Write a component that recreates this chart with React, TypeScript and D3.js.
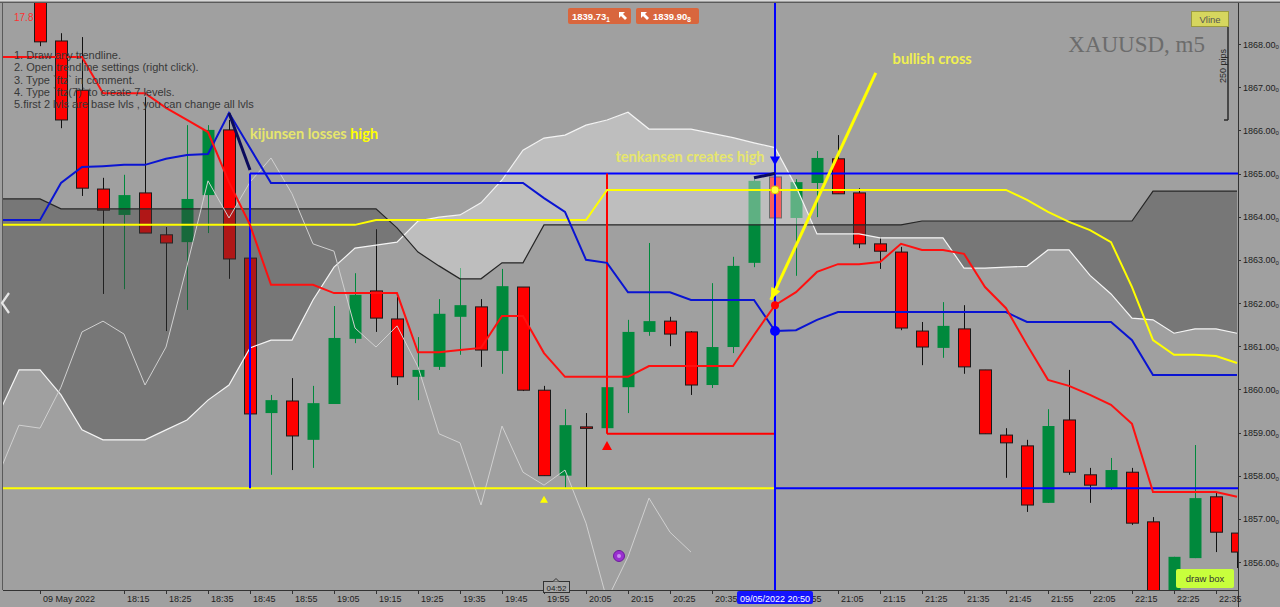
import React from "react";
import * as d3 from "d3";

// ---- chart data -------------------------------------------------------
const SYMBOL = "XAUUSD, m5";
const DATE_LABEL = "09 May 2022";
const CANDLE_START = "17:55"; // first candle
const LINE_START = "17:45"; // indicator buffers begin two bars earlier
const BAR_MINUTES = 5;

const opens = [
  1869.25, 1868.07, 1866.93, 1864.64, 1864.04, 1864.55, 1863.58, 1863.41, 1864.5, 1866.01,
  1863.04, 1859.45, 1859.73, 1858.83, 1859.66, 1861.17, 1862.28, 1861.63, 1860.29, 1860.52,
  1861.68, 1861.91, 1860.89, 1862.37, 1859.98, 1858.0, 1859.13, 1859.1, 1860.05, 1861.33,
  1861.58, 1861.33, 1860.1, 1860.98, 1862.93, 1864.92, 1863.97, 1864.78, 1865.34, 1864.55,
  1863.37, 1863.18, 1861.35, 1860.96, 1861.4, 1860.45, 1858.94, 1858.69, 1857.37, 1859.29,
  1858.02, 1857.71, 1858.08, 1856.93, 1855.0, 1856.09, 1857.51, 1856.67,
];
const highs = [
  1869.37, 1868.25, 1868.16, 1864.9, 1864.97, 1866.77, 1863.76, 1866.12, 1866.12, 1866.24,
  1863.04, 1859.87, 1860.26, 1860.08, 1861.93, 1862.69, 1863.71, 1862.14, 1861.21, 1862.09,
  1862.81, 1862.09, 1862.79, 1862.37, 1860.08, 1859.54, 1859.45, 1860.1, 1861.61, 1863.39,
  1861.68, 1861.35, 1862.46, 1863.07, 1864.87, 1864.92, 1864.87, 1865.52, 1865.89, 1864.66,
  1863.53, 1863.3, 1861.56, 1862.02, 1861.95, 1860.45, 1859.1, 1858.83, 1859.54, 1860.45,
  1858.18, 1858.41, 1858.18, 1857.04, 1856.12, 1858.71, 1857.6, 1856.67,
];
const lows = [
  1867.95, 1866.05, 1864.48, 1862.21, 1862.32, 1863.62, 1861.35, 1861.84, 1863.62, 1862.56,
  1859.43, 1858.02, 1858.13, 1858.18, 1859.66, 1861.07, 1861.33, 1860.1, 1859.75, 1860.45,
  1860.8, 1860.52, 1860.36, 1859.96, 1858.0, 1857.71, 1857.74, 1859.1, 1859.45, 1861.24,
  1861.0, 1859.87, 1860.03, 1860.84, 1862.83, 1863.97, 1862.63, 1863.99, 1864.53, 1863.27,
  1862.79, 1861.37, 1860.56, 1860.73, 1860.36, 1858.97, 1857.95, 1857.16, 1857.37, 1858.02,
  1857.37, 1857.67, 1856.86, 1854.89, 1854.89, 1856.09, 1856.23, 1855.86,
];
const closes = [
  1868.05, 1866.24, 1864.66, 1864.15, 1864.5, 1863.62, 1863.39, 1864.41, 1866.01, 1863.02,
  1859.43, 1859.75, 1858.92, 1859.68, 1861.19, 1862.19, 1861.65, 1860.29, 1860.45, 1861.75,
  1861.95, 1860.91, 1862.39, 1859.98, 1858.0, 1859.17, 1859.1, 1860.05, 1861.33, 1861.58,
  1861.28, 1860.1, 1860.98, 1862.86, 1864.83, 1863.97, 1864.8, 1865.36, 1864.53, 1863.37,
  1863.2, 1861.42, 1860.98, 1861.47, 1860.52, 1858.97, 1858.76, 1857.32, 1859.15, 1858.08,
  1857.78, 1858.13, 1856.9, 1855.12, 1856.12, 1857.48, 1856.69, 1856.23,
];

// Ichimoku buffers (from LINE_START)
const tenkan = [
  1867.7, 1867.7, 1867.7, 1867.7, 1867.7, 1866.86, 1866.86, 1866.86, 1866.52, 1866.24,
  1865.96, 1864.8, 1863.81, 1862.42, 1862.42, 1862.42, 1862.23, 1862.23, 1862.23, 1862.23,
  1860.86, 1860.86, 1860.91, 1860.96, 1861.7, 1861.7, 1860.84, 1860.29, 1860.29, 1860.29,
  1860.29, 1860.54, 1860.54, 1860.54, 1860.54, 1860.54, 1861.26, 1861.95, 1862.25, 1862.72,
  1862.9, 1862.9, 1862.95, 1863.37, 1863.23, 1863.23, 1863.14, 1862.37, 1861.88, 1861.03,
  1860.22, 1860.08, 1859.87, 1859.64, 1859.2, 1857.62, 1857.62, 1857.62, 1857.62, 1857.51,
];
const kijun = [
  1863.92, 1863.92, 1863.92, 1864.78, 1865.15, 1865.17, 1865.2, 1865.2, 1865.34, 1865.43,
  1865.45, 1866.4, 1865.59, 1864.78, 1864.78, 1864.78, 1864.78, 1864.78, 1864.78, 1864.78,
  1864.78, 1864.78, 1864.78, 1864.78, 1864.78, 1864.78, 1864.43, 1864.11, 1863.0, 1862.93,
  1862.25, 1862.25, 1862.25, 1862.07, 1862.07, 1862.07, 1862.07, 1861.35, 1861.37, 1861.61,
  1861.79, 1861.79, 1861.79, 1861.79, 1861.79, 1861.79, 1861.79, 1861.79, 1861.79, 1861.56,
  1861.56, 1861.56, 1861.56, 1861.56, 1861.14, 1860.33, 1860.33, 1860.33, 1860.33, 1860.33,
];
const senkouA = [
  1859.4, 1860.45, 1860.45, 1859.87, 1859.06, 1858.83, 1858.83, 1858.83, 1859.06, 1859.29,
  1859.75, 1860.1, 1860.96, 1861.14, 1861.14, 1862.07, 1862.83, 1863.27, 1863.34, 1863.41,
  1863.9, 1863.99, 1864.04, 1864.32, 1864.85, 1865.54, 1865.82, 1865.89, 1866.12, 1866.24,
  1866.42, 1866.03, 1866.03, 1866.03, 1865.93, 1865.83, 1865.71, 1865.6, 1864.7, 1863.6,
  1863.6, 1863.6, 1863.51, 1863.51, 1863.51, 1863.51, 1862.81, 1862.81, 1862.83, 1862.85,
  1863.23, 1863.23, 1862.64, 1862.21, 1861.65, 1861.61, 1861.3, 1861.4, 1861.4, 1861.3,
];
const senkouB = [
  1864.41, 1864.41, 1864.41, 1864.18, 1864.18, 1864.18, 1864.18, 1864.18, 1864.18, 1864.18,
  1864.18, 1864.18, 1864.18, 1864.18, 1864.18, 1864.18, 1864.18, 1864.18, 1864.18, 1863.74,
  1863.18, 1862.86, 1862.56, 1862.56, 1862.93, 1862.93, 1863.81, 1863.81, 1863.81, 1863.81,
  1863.81, 1863.81, 1863.81, 1863.81, 1863.81, 1863.81, 1863.81, 1863.81, 1863.81, 1863.81,
  1863.81, 1863.81, 1863.81, 1863.81, 1863.9, 1863.9, 1863.9, 1863.9, 1863.9, 1863.9,
  1863.9, 1863.9, 1863.9, 1863.9, 1863.9, 1864.59, 1864.59, 1864.59, 1864.59, 1864.59,
];
// yellow signal line
const signalLine = [
  1863.81, 1863.81, 1863.81, 1863.81, 1863.81, 1863.81, 1863.81, 1863.81, 1863.81, 1863.81,
  1863.81, 1863.81, 1863.81, 1863.81, 1863.81, 1863.81, 1863.81, 1863.81, 1863.92, 1863.92,
  1863.92, 1863.92, 1863.92, 1863.92, 1863.92, 1863.92, 1863.92, 1863.92, 1863.92, 1864.62,
  1864.62, 1864.62, 1864.62, 1864.62, 1864.62, 1864.62, 1864.62, 1864.62, 1864.62, 1864.62,
  1864.62, 1864.62, 1864.62, 1864.62, 1864.62, 1864.62, 1864.62, 1864.62, 1864.62, 1864.39,
  1864.11, 1863.88, 1863.69, 1863.41, 1862.37, 1861.14, 1860.8, 1860.8, 1860.77, 1860.61,
];

const priceTicks = [1856, 1857, 1858, 1859, 1860, 1861, 1862, 1863, 1864, 1865, 1866, 1867, 1868];
const timeTicks = [
  "18:15", "18:25", "18:35", "18:45", "18:55", "19:05", "19:15", "19:25", "19:35", "19:45",
  "19:55", "20:05", "20:15", "20:25", "20:35", "20:55", "21:05", "21:15", "21:25",
  "21:35", "21:45", "21:55", "22:05", "22:15", "22:25", "22:35",
];

const instructions = [
  "1. Draw any trendline.",
  "2. Open trendline settings (right click).",
  "3. Type `ftz` in comment.",
  "4. Type `ftz(7)` to create 7 levels.",
  "5.first 2 lvls are base lvls , you can change all lvls",
];

// drawn objects
const boxTop = 1865.0;
const swingLow = 1857.71;
const redLevel = 1858.97;
const boxStart = "18:45";
const redStart = "20:10";
const vlineTime = "20:50";

// ---- layout -----------------------------------------------------------
const W = 1280;
const H = 607;
const PL = 3, PT = 3, PR = 1238, PB = 590;

const BG = "#a0a0a0";
const GREEN = "#00893c";
const RED = "#ff0000";
const BLUE = "#0000ff";
const YELLOW = "#ffff00";

const at = (hm: string) => {
  const [h, m] = hm.split(":").map(Number);
  return new Date(2022, 4, 9, h, m);
};
const step = (start: string, i: number) => new Date(at(start).getTime() + i * BAR_MINUTES * 60000);

const x = d3.scaleTime().domain([at("17:55"), at("22:40")]).range([40, 1237]);
const y = d3.scaleLinear().domain([1856, 1868]).range([562, 44]);

const lineIdx = d3.range(senkouA.length);
const lx = (j: number) => x(step(LINE_START, j));

const seriesPath = (vals: number[]) =>
  d3.line<number>().x(lx).y((j) => y(vals[j]))(lineIdx) || "";

const cloudBetween = d3.area<number>().x(lx).y0((j) => y(senkouB[j])).y1((j) => y(senkouA[j]))(lineIdx) || "";
const belowA = d3.area<number>().x(lx).y0(PB + 60).y1((j) => y(senkouA[j]))(lineIdx) || "";
const aboveA = d3.area<number>().x(lx).y0(PT - 60).y1((j) => y(senkouA[j]))(lineIdx) || "";

// lagging span: close plotted 26 bars back
const chikouIdx = d3.range(-2, closes.length - 26);
const chikouPath =
  d3.line<number>().x((i) => x(step(CANDLE_START, i))).y((i) => y(closes[i + 26]))(chikouIdx) || "";

export default function App() {
  const xv = x(at(vlineTime));
  const xBox = x(at(boxStart));
  const xRed = x(at(redStart));
  const vi = Math.round((at(vlineTime).getTime() - at(LINE_START).getTime()) / (BAR_MINUTES * 60000));

  // yellow arrow
  const a0 = { x: x(at("21:14")), y: y(1867.33) };
  const a1 = { x: x(at("20:49")), y: y(1862.07) };
  const ang = Math.atan2(a1.y - a0.y, a1.x - a0.x);
  const ah = 12, aw = 5;
  const head = [
    [a1.x, a1.y],
    [a1.x - ah * Math.cos(ang) + aw * Math.sin(ang), a1.y - ah * Math.sin(ang) - aw * Math.cos(ang)],
    [a1.x - ah * Math.cos(ang) - aw * Math.sin(ang), a1.y - ah * Math.sin(ang) + aw * Math.cos(ang)],
  ];

  const axisFont = "'Liberation Sans', Arial, sans-serif";
  const noteFont = "Lato, 'Open Sans', sans-serif";
  const tagW = 76;

  return (
    <div style={{ position: "fixed", left: 0, top: 0, width: W, height: H }}>
      <svg width={W} height={H} style={{ display: "block" }}>
        <defs>
          <clipPath id="plot">
            <rect x={PL} y={PT} width={PR - PL} height={PB - PT} />
          </clipPath>
          <clipPath id="belowA">
            <path d={belowA} />
          </clipPath>
          <clipPath id="aboveA">
            <path d={aboveA} />
          </clipPath>
          <clipPath id="afterTag">
            <rect x={xv + tagW / 2} y={PB} width={PR - xv} height={H - PB} />
          </clipPath>
        </defs>
        <rect x={0} y={0} width={W} height={H} fill={BG} />
        <line x1={0} x2={W} y1={0.5} y2={0.5} stroke="#d8d8d8" />
        <line x1={0} x2={W} y1={2.5} y2={2.5} stroke="#5a5a5a" />
        <line x1={2.5} x2={2.5} y1={2} y2={PB} stroke="#5a5a5a" />

        <g clipPath="url(#plot)">
          {/* candles */}
          {opens.map((o, i) => {
            const c = closes[i];
            const up = c > o;
            const cx = Math.round(x(step(CANDLE_START, i)));
            const top = y(Math.max(o, c));
            const bot = y(Math.min(o, c));
            return (
              <g key={i}>
                <line
                  x1={cx + 0.5}
                  x2={cx + 0.5}
                  y1={y(highs[i])}
                  y2={y(lows[i])}
                  stroke={up ? GREEN : "#111"}
                  strokeWidth={1}
                />
                <rect
                  x={cx - 5.5}
                  y={top}
                  width={12}
                  height={Math.max(1.5, bot - top)}
                  fill={up ? GREEN : RED}
                  stroke={up ? "none" : "#1a1a1a"}
                  strokeWidth={1}
                />
              </g>
            );
          })}

          {/* kumo */}
          <path d={cloudBetween} fill="#ebebeb" opacity={0.4} clipPath="url(#belowA)" />
          <path d={cloudBetween} fill="#3a3a3a" opacity={0.4} clipPath="url(#aboveA)" />
          <path d={seriesPath(senkouA)} fill="none" stroke="#f4f4f4" strokeWidth={1.2} />
          <path d={seriesPath(senkouB)} fill="none" stroke="#262626" strokeWidth={1.2} />
          <path d={chikouPath} fill="none" stroke="#d0d0d0" strokeWidth={1} />

          {/* box objects */}
          <line x1={PL} x2={xv} y1={y(swingLow)} y2={y(swingLow)} stroke={YELLOW} strokeWidth={2} />
          <line x1={xv} x2={PR} y1={y(swingLow)} y2={y(swingLow)} stroke={BLUE} strokeWidth={2} />
          <line x1={xBox} x2={PR} y1={y(boxTop)} y2={y(boxTop)} stroke={BLUE} strokeWidth={2} />
          <line x1={xBox} x2={xBox} y1={y(boxTop)} y2={y(swingLow)} stroke={BLUE} strokeWidth={2} />
          <line x1={xRed} x2={xRed} y1={y(boxTop)} y2={y(redLevel)} stroke={RED} strokeWidth={2} />
          <line x1={xRed} x2={xv} y1={y(redLevel)} y2={y(redLevel)} stroke={RED} strokeWidth={2} />

          {/* indicator lines */}
          <path d={seriesPath(signalLine)} fill="none" stroke={YELLOW} strokeWidth={2} />
          <path d={seriesPath(kijun)} fill="none" stroke="#0a14d2" strokeWidth={2} />
          <path d={seriesPath(tenkan)} fill="none" stroke="#ff1010" strokeWidth={2} />

          {/* vertical line */}
          <line x1={xv} x2={xv} y1={PT} y2={PB} stroke={BLUE} strokeWidth={2} />

          {/* trendlines */}
          <line
            x1={x(at("18:40"))}
            y1={y(1866.4)}
            x2={x(at("18:45"))}
            y2={y(1865.08)}
            stroke="#0b0b5c"
            strokeWidth={3}
          />
          <line
            x1={x(at("20:45"))}
            y1={y(1864.9)}
            x2={xv}
            y2={y(1865.0)}
            stroke="#0b0b5c"
            strokeWidth={3}
          />

          {/* arrow */}
          <line x1={a0.x} y1={a0.y} x2={a1.x} y2={a1.y} stroke={YELLOW} strokeWidth={3} />
          <polygon points={head.map((p) => p.join(",")).join(" ")} fill={YELLOW} />

          {/* markers */}
          <polygon
            points={`${xv - 5},${y(1865.3) - 4} ${xv + 5},${y(1865.3) - 4} ${xv},${y(1865.3) + 5}`}
            fill={BLUE}
          />
          <circle cx={xv} cy={y(signalLine[vi])} r={4} fill="#ffff40" stroke="#e0c000" />
          <circle cx={xv} cy={y(tenkan[vi])} r={4} fill={RED} />
          <circle cx={xv} cy={y(kijun[vi])} r={5} fill={BLUE} />
          <polygon
            points={`${xRed - 5},${y(1858.69) + 4} ${xRed + 5},${y(1858.69) + 4} ${xRed},${y(1858.69) - 5}`}
            fill={RED}
          />
          <polygon
            points={`${x(at("19:55")) - 4},${y(1857.44) + 3} ${x(at("19:55")) + 4},${y(1857.44) + 3} ${x(at("19:55"))},${y(1857.44) - 4}`}
            fill={YELLOW}
          />
          <circle cx={x(at("20:10")) + 12} cy={y(1856.14)} r={5.5} fill="#9a2fd0" stroke="#6b1a9a" strokeWidth={1} />
          <circle cx={x(at("20:10")) + 12} cy={y(1856.14)} r={2} fill="#c98cf0" />
        </g>

        {/* chevron at left edge */}
        <polyline points="9,293 2,303 9,313" fill="none" stroke="#e6e6e6" strokeWidth={2.2} />

        {/* notes */}
        <text x={14} y={21} fontSize={10} fill="#ff3030" fontFamily={axisFont}>
          17.8
        </text>
        {instructions.map((s, i) => (
          <text key={i} x={14} y={59 + i * 12.3} fontSize={11} fill="#383838" fontFamily={axisFont}>
            {s}
          </text>
        ))}
        <text x={xBox} y={y(1865.8)} fontSize={14.6} fontWeight={700} fill="#e6e66c" fontFamily={noteFont}>
          kijunsen losses <tspan fill="#ffff00">high</tspan>
        </text>
        <text x={x(at("20:12"))} y={y(1865.27)} fontSize={14.6} fontWeight={700} fill="#e6e66c" fontFamily={noteFont}>
          tenkansen creates high
        </text>
        <text x={x(at("21:18"))} y={y(1867.54)} fontSize={14.6} fontWeight={700} fill="#f0f050" fontFamily={noteFont}>
          bullish cross
        </text>
        <text
          x={1205}
          y={52}
          textAnchor="end"
          fontSize={23}
          fill="#6c6c6c"
          fontFamily="'Liberation Serif', 'Times New Roman', serif"
        >
          {SYMBOL}
        </text>

        {/* trade labels */}
        <rect x={568} y={8} width={63} height={16} rx={2} fill="#d9663d" />
        <text x={572} y={20} fontSize={9.5} fontWeight={700} fill="#fff" fontFamily={axisFont}>
          1839.73<tspan fontSize={6.5} dy={2}>1</tspan>
        </text>
        <path d="M619 12 l6 0 l-2 2 l4 4 l-2 2 l-4 -4 l-2 2 z" fill="#fff" />
        <rect x={636} y={8} width={63} height={16} rx={2} fill="#d9663d" />
        <path d="M641 12 l6 0 l-2 2 l4 4 l-2 2 l-4 -4 l-2 2 z" fill="#fff" />
        <text x={653} y={20} fontSize={9.5} fontWeight={700} fill="#fff" fontFamily={axisFont}>
          1839.90<tspan fontSize={6.5} dy={2}>8</tspan>
        </text>

        {/* Vline button and pip ruler */}
        <line x1={1228} x2={1228} y1={13} y2={120} stroke="#2a2a2a" strokeWidth={1.5} />
        <line x1={1224} x2={1228} y1={120} y2={120} stroke="#2a2a2a" strokeWidth={1.5} />
        <rect x={1191.5} y={11.5} width={37} height={15} fill="#d6d65e" stroke="#9a9a40" />
        <text x={1210} y={22.5} textAnchor="middle" fontSize={9.5} fill="#555" fontFamily={axisFont}>
          Vline
        </text>
        <text
          transform="translate(1226,66) rotate(-90)"
          textAnchor="middle"
          fontSize={9}
          fill="#2a2a2a"
          fontFamily={axisFont}
        >
          250 pips
        </text>

        {/* draw box button */}
        <rect x={1176} y={569} width={58} height={19} rx={2} fill="#c8ff3c" />
        <text x={1205} y={582} textAnchor="middle" fontSize={9.5} fill="#333" fontFamily={axisFont}>
          draw box
        </text>

        {/* price axis */}
        <line x1={PR + 0.5} x2={PR + 0.5} y1={PT} y2={H} stroke="#333" />
        {priceTicks.map((p) => (
          <g key={p}>
            <line x1={PR} x2={PR + 3} y1={Math.round(y(p)) + 0.5} y2={Math.round(y(p)) + 0.5} stroke="#333" />
            <text x={PR + 5} y={y(p) + 3.5} fontSize={9} fill="#1e1e1e" fontFamily={axisFont}>
              {p.toFixed(2)}
              <tspan fontSize={6} dy={1.5}>
                0
              </tspan>
            </text>
          </g>
        ))}

        {/* time axis */}
        <line x1={PL} x2={PR} y1={PB + 0.5} y2={PB + 0.5} stroke="#333" />
        <line x1={x(at("17:55")) + 0.5} x2={x(at("17:55")) + 0.5} y1={PB} y2={PB + 4} stroke="#333" />
        <text x={x(at("17:55")) + 3} y={602} fontSize={9} fill="#1e1e1e" fontFamily={axisFont}>
          {DATE_LABEL}
        </text>
        {timeTicks.map((t) => {
          const tx = x(at(t));
          const hidden = tx < xv + tagW / 2 && tx > xv - tagW / 2;
          return (
            <g key={t} clipPath={hidden ? "url(#afterTag)" : undefined}>
              <line x1={Math.round(tx) + 0.5} x2={Math.round(tx) + 0.5} y1={PB} y2={PB + 4} stroke="#333" />
              <text x={tx + 3} y={602} fontSize={9} fill="#1e1e1e" fontFamily={axisFont}>
                {t}
              </text>
            </g>
          );
        })}

        {/* bar countdown */}
        <rect x={543.5} y={581.5} width={26} height={11} fill="#a6a6a6" stroke="#333" />
        <path d="M553 581.5 l3 -3 l3 3" fill="#a6a6a6" stroke="#333" />
        <text x={556.5} y={590.5} textAnchor="middle" fontSize={8} fill="#222" fontFamily={axisFont}>
          04:52
        </text>

        {/* crosshair time label */}
        <rect x={xv - tagW / 2} y={591} width={tagW} height={13} rx={2} fill="#1414ff" />
        <text x={xv} y={601.5} textAnchor="middle" fontSize={9} fill="#fff" fontFamily={axisFont}>
          09/05/2022 20:50
        </text>
      </svg>
    </div>
  );
}
